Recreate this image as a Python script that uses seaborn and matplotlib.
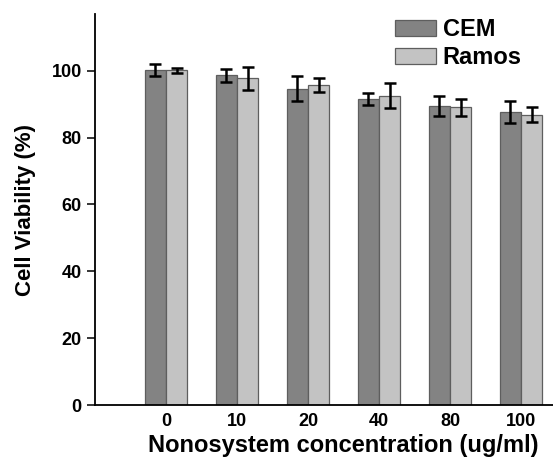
import matplotlib
matplotlib.use("Agg")
import matplotlib.pyplot as plt
import seaborn as sns
import numpy as np
import pandas as pd

# Cell viability after exposure to the nanosystem
concentrations = ["0", "10", "20", "40", "80", "100"]
cem_viability = [100.2, 98.7, 94.7, 91.6, 89.5, 87.8]
cem_sd = [1.7, 1.9, 3.7, 1.7, 3.1, 3.3]
ramos_viability = [100.1, 97.8, 95.8, 92.6, 89.1, 86.9]
ramos_sd = [0.7, 3.4, 2.0, 3.8, 2.6, 2.2]
cell_lines = ["CEM", "Ramos"]
y_ticks = [0, 20, 40, 60, 80, 100]

df = pd.DataFrame({
    "conc": concentrations * 2,
    "viability": cem_viability + ramos_viability,
    "cell": [cell_lines[0]] * len(concentrations) + [cell_lines[1]] * len(concentrations),
})

sns.set_style("ticks")
plt.rcParams["font.family"] = ["Liberation Sans", "DejaVu Sans"]
plt.rcParams["font.weight"] = "bold"
plt.rcParams["text.color"] = "black"
plt.rcParams["axes.labelcolor"] = "black"
plt.rcParams["xtick.color"] = "black"
plt.rcParams["ytick.color"] = "black"

fig = plt.figure(figsize=(5.53, 4.57), dpi=100)
ax = fig.add_axes([95 / 553, 1 - 405 / 457, 1 - 95 / 553, (405 - 14) / 457])

sns.barplot(data=df, x="conc", y="viability", hue="cell", order=concentrations,
            hue_order=cell_lines, palette=["#838383", "#c3c3c3"], width=0.6,
            errorbar=None, edgecolor="#5e5e5e", linewidth=0.9, ax=ax)

# error bars placed at the centre of each drawn bar
for container, sd in zip(ax.containers, [cem_sd, ramos_sd]):
    xs = [p.get_x() + p.get_width() / 2 for p in container.patches]
    ys = [p.get_height() for p in container.patches]
    ax.errorbar(xs, ys, yerr=sd, fmt="none", ecolor="black", elinewidth=1.8,
                capsize=4.5, capthick=1.8, zorder=5)

ax.set_xlim(-1.0, 5.45)
ax.set_ylim(0, 117)
ax.set_yticks(y_ticks)
ax.set_yticklabels([str(t) for t in y_ticks], fontsize=13, fontweight="bold")
ax.set_xticklabels(concentrations, fontsize=13, fontweight="bold")
ax.tick_params(axis="x", length=0, pad=6)
ax.tick_params(axis="y", length=5.5, width=1.1, pad=4, direction="out")
for s in ["top", "right"]:
    ax.spines[s].set_visible(False)
for s in ["left", "bottom"]:
    ax.spines[s].set_linewidth(1.3)
    ax.spines[s].set_color("black")

ax.set_xlabel("Nonosystem concentration (ug/ml)", fontsize=17, fontweight="bold", labelpad=2)
ax.xaxis.set_label_coords(0.542, -0.075)
ax.set_ylabel("Cell Viability (%)", fontsize=16, fontweight="bold", labelpad=11)

handles, labels = ax.get_legend_handles_labels()
ax.legend(handles, labels, loc="upper left", bbox_to_anchor=(386 / 553, 1 - 9 / 457),
          bbox_transform=fig.transFigure, frameon=False,
          prop={"weight": "bold", "size": 17}, handlelength=1.7, handleheight=0.7,
          handletextpad=0.3, labelspacing=0.2, borderaxespad=0)

fig.savefig("out.png", dpi=100)
